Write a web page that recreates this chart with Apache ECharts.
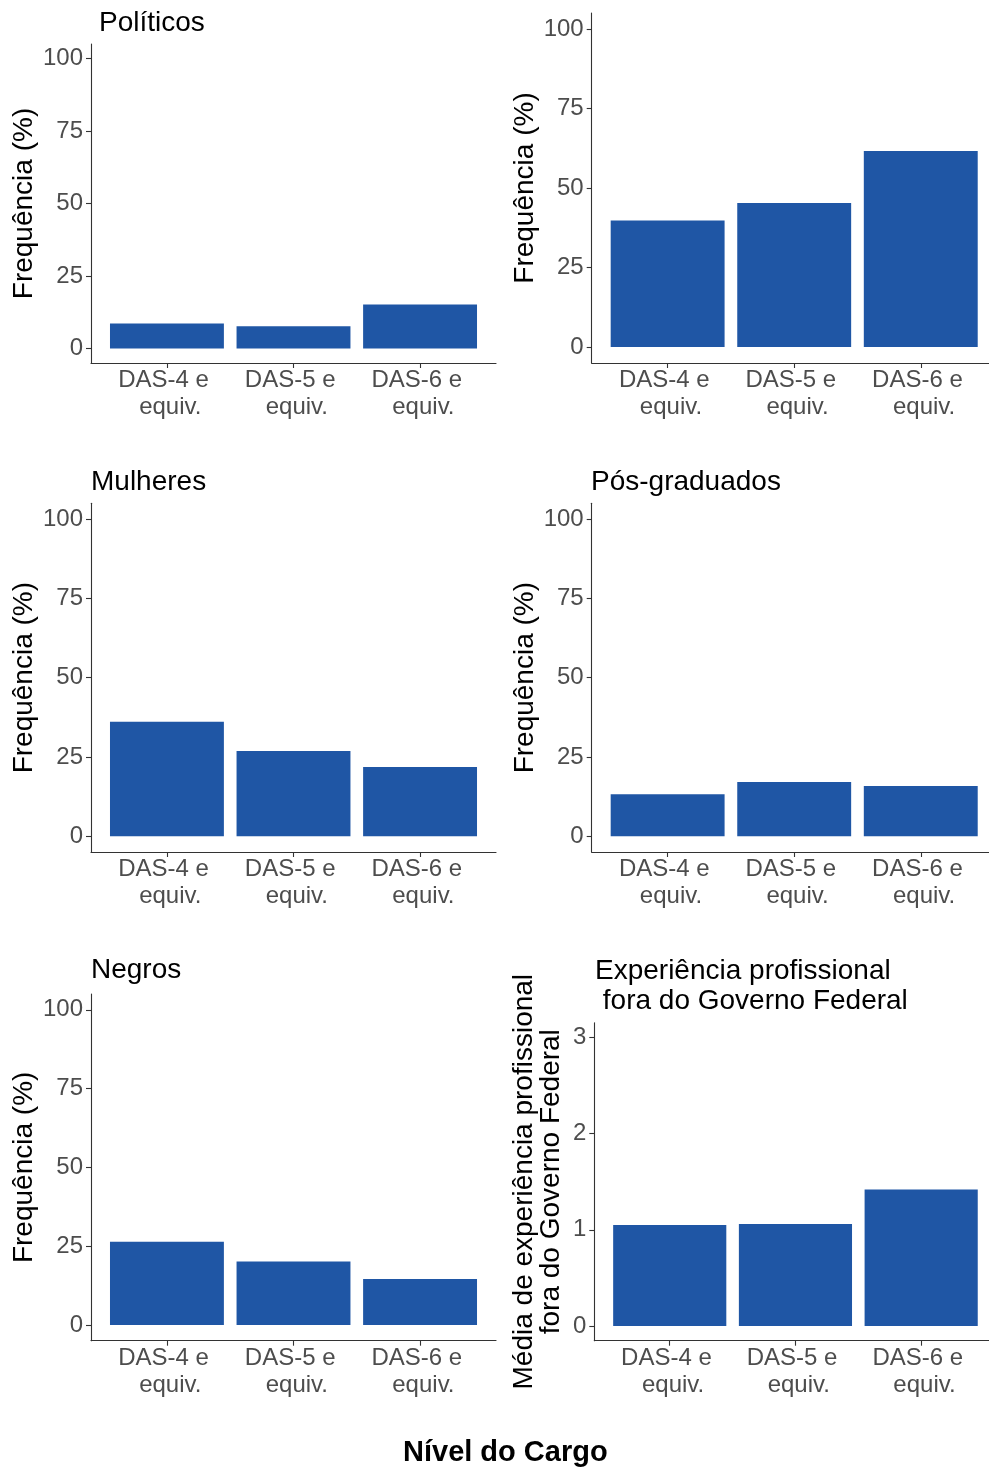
<!DOCTYPE html>
<html>
<head>
<meta charset="utf-8">
<script src="https://cdn.jsdelivr.net/npm/echarts@6/dist/echarts.min.js"></script>
<style>
  html, body { margin: 0; padding: 0; background: #ffffff; }
  #chart { width: 989px; height: 1471px; }
</style>
</head>
<body>
<div id="chart"></div>
<script>
// ---- data ----
const categories = ['DAS-4 e \n equiv.', 'DAS-5 e \n equiv.', 'DAS-6 e \n equiv.'];
const politicos = [8.6, 7.7, 15.2];
const painelSemTitulo = [39.8, 45.3, 61.6];
const mulheres = [36.1, 26.9, 21.8];
const posGraduados = [13.2, 17.1, 15.8];
const negros = [26.4, 20.1, 14.6];
const experiencia = [1.05, 1.06, 1.42];
const pctTicks = [0, 25, 50, 75, 100];
const expTicks = [0, 1, 2, 3];
const panelTitles = ['Políticos', '', 'Mulheres', 'Pós-graduados', 'Negros', 'Experiência profissional\n fora do Governo Federal'];
const yTitles = ['Frequência (%)', 'Frequência (%)', 'Frequência (%)', 'Frequência (%)', 'Frequência (%)', 'Média de experiência profissional\nfora do Governo Federal'];
const xTitle = 'Nível do Cargo';

// ---- layout ----
const FONT = "'Liberation Sans', Arial, sans-serif";
const BAR = '#1F56A5';
const panels = [
  { vals: politicos,       ticks: pctTicks, ymin: -5, ymax: 105, grid: { left: 91,    top: 44,     width: 405,   height: 319 },   title: { left: 99,  top: 8 },   gap: 53 },
  { vals: painelSemTitulo, ticks: pctTicks, ymin: -5, ymax: 105, grid: { left: 591.7, top: 13,     width: 405,   height: 350 },   title: { left: 592, top: 0 },   gap: 53 },
  { vals: mulheres,        ticks: pctTicks, ymin: -5, ymax: 105, grid: { left: 91,    top: 503.3,  width: 405,   height: 348.7 }, title: { left: 91,  top: 467 }, gap: 53 },
  { vals: posGraduados,    ticks: pctTicks, ymin: -5, ymax: 105, grid: { left: 591.7, top: 503.3,  width: 405,   height: 348.7 }, title: { left: 591, top: 467 }, gap: 53 },
  { vals: negros,          ticks: pctTicks, ymin: -5, ymax: 105, grid: { left: 91,    top: 994,    width: 405,   height: 346.7 }, title: { left: 91,  top: 955 }, gap: 53 },
  { vals: experiencia,     ticks: expTicks, ymin: -0.152, ymax: 3.152, grid: { left: 594.3, top: 1022.7, width: 402.3, height: 318 }, title: { left: 595, top: 956 }, gap: 30 }
];

const grids = [], xAxes = [], yAxes = [], series = [], titles = [];
panels.forEach((p, i) => {
  grids.push(Object.assign({ outerBoundsMode: 'none', containLabel: false }, p.grid));
  const axisLine = { show: true, onZero: false, lineStyle: { color: '#333333', width: 1.1 } };
  const axisTick = { show: true, length: 5, lineStyle: { color: '#333333', width: 1.1 } };
  xAxes.push({
    type: 'value', gridIndex: i, min: 0.4, max: 3.6,
    axisLine: axisLine,
    axisTick: Object.assign({ customValues: [1, 2, 3] }, axisTick),
    axisLabel: {
      customValues: [1, 2, 3],
      formatter: v => categories[Math.round(v) - 1],
      color: '#4D4D4D', fontSize: 24, fontFamily: FONT, lineHeight: 27, margin: 4
    },
    splitLine: { show: false }
  });
  yAxes.push({
    type: 'value', gridIndex: i, min: p.ymin, max: p.ymax,
    axisLine: axisLine,
    axisTick: Object.assign({ customValues: p.ticks }, axisTick),
    axisLabel: {
      customValues: p.ticks,
      color: '#4D4D4D', fontSize: 24, fontFamily: FONT, margin: 8
    },
    splitLine: { show: false },
    name: yTitles[i], nameLocation: 'middle', nameRotate: 90, nameGap: p.gap,
    nameTextStyle: { color: '#000000', fontSize: 28, fontFamily: FONT, lineHeight: 27, align: 'center' }
  });
  series.push({
    type: 'bar', xAxisIndex: i, yAxisIndex: i,
    barWidth: 0.9 * p.grid.width / 3.2,
    itemStyle: { color: BAR },
    data: p.vals.map((v, k) => [k + 1, v]),
    silent: true
  });
  if (panelTitles[i]) {
    titles.push({
      text: panelTitles[i], left: p.title.left, top: p.title.top, padding: 0,
      textStyle: { color: '#000000', fontSize: 28, fontWeight: 'normal', fontFamily: FONT, lineHeight: 30 }
    });
  }
});
titles.push({
  text: xTitle, left: 403, top: 1438, padding: 0,
  textStyle: { color: '#000000', fontSize: 29, fontWeight: 'bold', fontFamily: FONT }
});

const chart = echarts.init(document.getElementById('chart'), null, { renderer: 'canvas' });
chart.setOption({
  animation: false,
  backgroundColor: '#ffffff',
  title: titles,
  grid: grids,
  xAxis: xAxes,
  yAxis: yAxes,
  series: series
});
</script>
</body>
</html>
